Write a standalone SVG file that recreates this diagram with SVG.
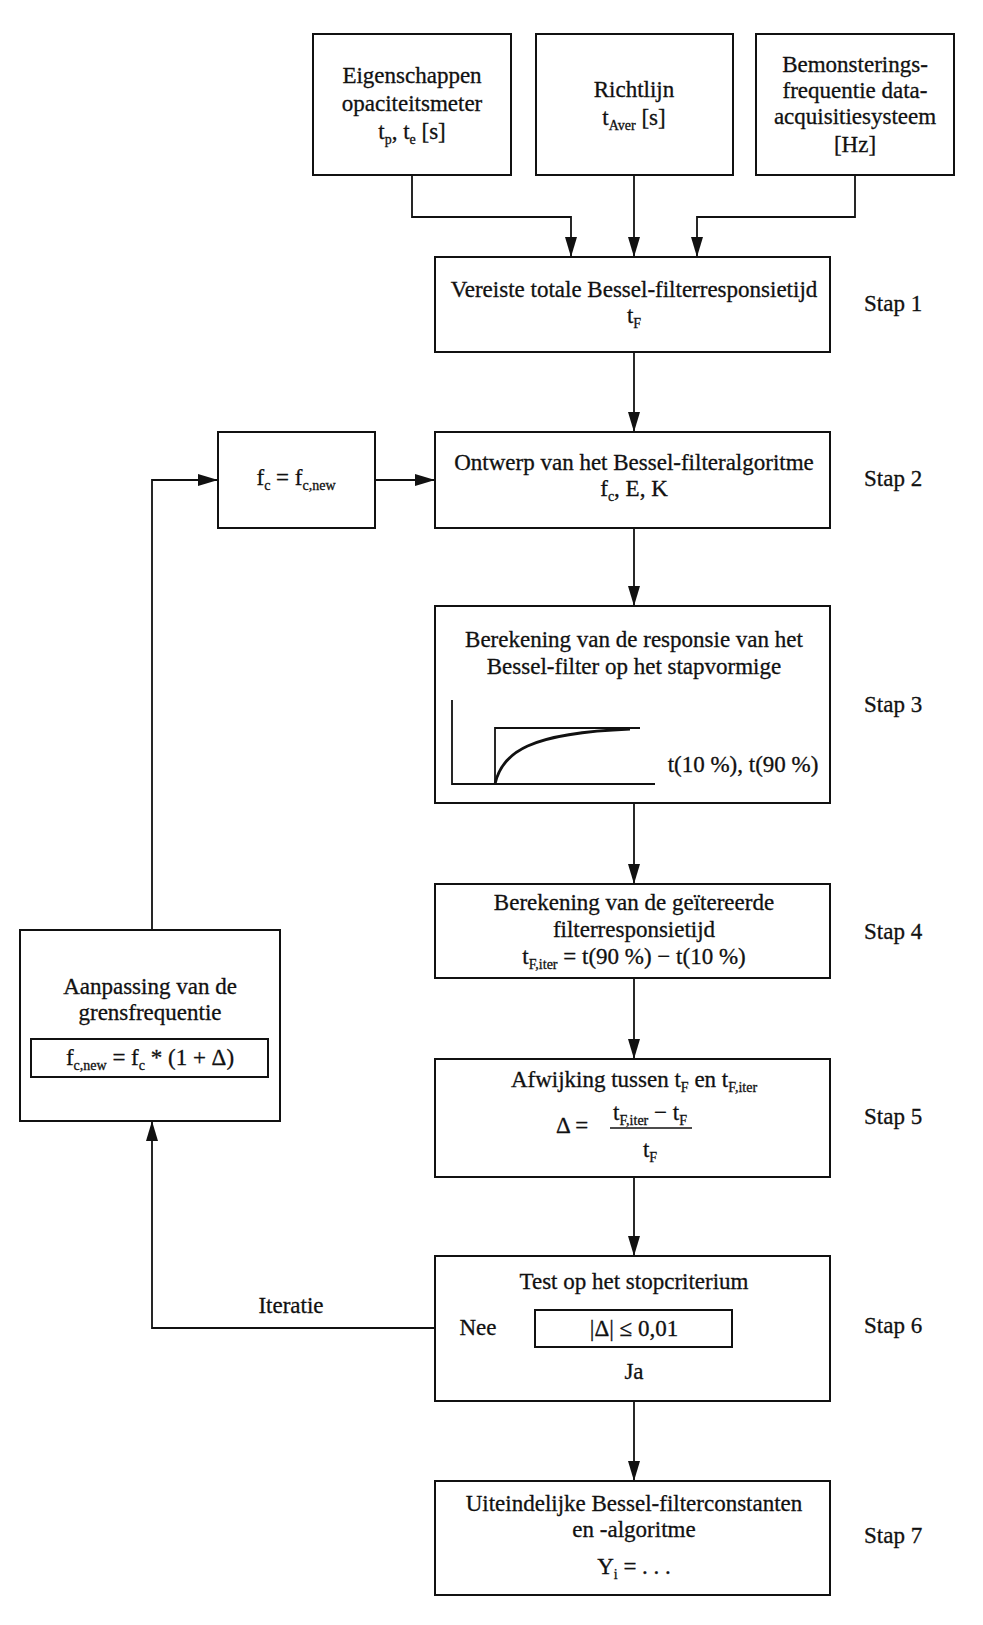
<svg xmlns="http://www.w3.org/2000/svg" width="983" height="1625" viewBox="0 0 983 1625">
<style>
.box{fill:#fff;stroke:#111;stroke-width:2}
.t{font-family:"Liberation Serif",serif;font-size:23px;fill:#111;stroke:#111;stroke-width:0.3;text-anchor:middle}
.st{font-family:"Liberation Serif",serif;font-size:23px;fill:#111;stroke:#111;stroke-width:0.3}
.s{font-size:14px}
.ln{fill:none;stroke:#111;stroke-width:1.8}
.ar{fill:none;stroke:#111;stroke-width:1.8;marker-end:url(#ah)}
</style>
<defs>
<marker id="ah" viewBox="0 0 20 12" refX="20" refY="6" markerWidth="20" markerHeight="12" markerUnits="userSpaceOnUse" orient="auto">
<path d="M0,0 L20,6 L0,12 z" fill="#111"/>
</marker>
</defs>
<rect width="983" height="1625" fill="#fff"/>

<g id="connectors">
<path class="ar" d="M412,175 V217 H571 V257"/>
<path class="ar" d="M634,175 V257"/>
<path class="ar" d="M855,175 V217 H697 V257"/>
<path class="ar" d="M634,352 V432"/>
<path class="ar" d="M375,480 H435"/>
<path class="ar" d="M152,930 V480 H218"/>
<path class="ar" d="M634,528 V606"/>
<path class="ar" d="M634,803 V884"/>
<path class="ar" d="M634,978 V1059"/>
<path class="ar" d="M634,1177 V1256"/>
<path class="ar" d="M435,1328 H152 V1121"/>
<path class="ar" d="M634,1401 V1481"/>
<text class="t" x="291" y="1313">Iteratie</text>
</g>

<g id="n-eigenschappen">
<rect class="box" x="313" y="34" width="198" height="141"/>
<text class="t" x="412" y="83">Eigenschappen</text>
<text class="t" x="412" y="111">opaciteitsmeter</text>
<text class="t" x="412" y="139">t<tspan class="s" dy="5">p</tspan><tspan dy="-5">, t</tspan><tspan class="s" dy="5">e</tspan><tspan dy="-5"> [s]</tspan></text>
</g>

<g id="n-richtlijn">
<rect class="box" x="536" y="34" width="197" height="141"/>
<text class="t" x="634" y="97">Richtlijn</text>
<text class="t" x="634" y="125">t<tspan class="s" dy="5">Aver</tspan><tspan dy="-5"> [s]</tspan></text>
</g>

<g id="n-bemonstering">
<rect class="box" x="756" y="34" width="198" height="141"/>
<text class="t" x="855" y="72">Bemonsterings-</text>
<text class="t" x="855" y="98">frequentie data-</text>
<text class="t" x="855" y="124">acquisitiesysteem</text>
<text class="t" x="855" y="152">[Hz]</text>
</g>

<g id="n-stap1">
<rect class="box" x="435" y="257" width="395" height="95"/>
<text class="t" x="634" y="297">Vereiste totale Bessel-filterresponsietijd</text>
<text class="t" x="634" y="323">t<tspan class="s" dy="5">F</tspan></text>
<text class="st" x="864" y="311">Stap 1</text>
</g>

<g id="n-fc">
<rect class="box" x="218" y="432" width="157" height="96"/>
<text class="t" x="296" y="485">f<tspan class="s" dy="5">c</tspan><tspan dy="-5"> = f</tspan><tspan class="s" dy="5">c,new</tspan></text>
</g>

<g id="n-stap2">
<rect class="box" x="435" y="432" width="395" height="96"/>
<text class="t" x="634" y="470">Ontwerp van het Bessel-filteralgoritme</text>
<text class="t" x="634" y="496">f<tspan class="s" dy="5">c</tspan><tspan dy="-5">, E, K</tspan></text>
<text class="st" x="864" y="486">Stap 2</text>
</g>

<g id="n-stap3">
<rect class="box" x="435" y="606" width="395" height="197"/>
<text class="t" x="634" y="647">Berekening van de responsie van het</text>
<text class="t" x="634" y="674">Bessel-filter op het stapvormige</text>
<path class="ln" d="M452,700 V784 H655"/>
<path class="ln" d="M495,784 V728 H640"/>
<path fill="none" stroke="#111" stroke-width="2.8" d="M495,784 C502,752 530,733 630,729"/>
<text class="t" x="743" y="772">t(10 %), t(90 %)</text>
<text class="st" x="864" y="712">Stap 3</text>
</g>

<g id="n-aanpassing">
<rect class="box" x="20" y="930" width="260" height="191"/>
<text class="t" x="150" y="994">Aanpassing van de</text>
<text class="t" x="150" y="1020">grensfrequentie</text>
<rect class="box" x="31" y="1039" width="237" height="38"/>
<text class="t" x="150" y="1065">f<tspan class="s" dy="5">c,new</tspan><tspan dy="-5"> = f</tspan><tspan class="s" dy="5">c</tspan><tspan dy="-5"> * (1 + Δ)</tspan></text>
</g>

<g id="n-stap4">
<rect class="box" x="435" y="884" width="395" height="94"/>
<text class="t" x="634" y="910">Berekening van de geïtereerde</text>
<text class="t" x="634" y="937">filterresponsietijd</text>
<text class="t" x="634" y="964">t<tspan class="s" dy="5">F,iter</tspan><tspan dy="-5"> = t(90 %) − t(10 %)</tspan></text>
<text class="st" x="864" y="939">Stap 4</text>
</g>

<g id="n-stap5">
<rect class="box" x="435" y="1059" width="395" height="118"/>
<text class="t" x="634" y="1087">Afwijking tussen t<tspan class="s" dy="5">F</tspan><tspan dy="-5"> en t</tspan><tspan class="s" dy="5">F,iter</tspan></text>
<text class="t" x="572" y="1133">Δ =</text>
<text class="t" x="650" y="1120">t<tspan class="s" dy="5">F,iter</tspan><tspan dy="-5"> − t</tspan><tspan class="s" dy="5">F</tspan></text>
<line x1="610" y1="1128" x2="692" y2="1128" stroke="#111" stroke-width="1.5"/>
<text class="t" x="650" y="1157">t<tspan class="s" dy="5">F</tspan></text>
<text class="st" x="864" y="1124">Stap 5</text>
</g>

<g id="n-stap6">
<rect class="box" x="435" y="1256" width="395" height="145"/>
<text class="t" x="634" y="1289">Test op het stopcriterium</text>
<text class="t" x="478" y="1335">Nee</text>
<rect class="box" x="535" y="1310" width="197" height="37"/>
<text class="t" x="634" y="1336">|Δ| ≤ 0,01</text>
<text class="t" x="634" y="1379">Ja</text>
<text class="st" x="864" y="1333">Stap 6</text>
</g>

<g id="n-stap7">
<rect class="box" x="435" y="1481" width="395" height="114"/>
<text class="t" x="634" y="1511">Uiteindelijke Bessel-filterconstanten</text>
<text class="t" x="634" y="1537">en -algoritme</text>
<text class="t" x="634" y="1574">Y<tspan class="s" dy="5">i</tspan><tspan dy="-5"> = . . .</tspan></text>
<text class="st" x="864" y="1543">Stap 7</text>
</g>
</svg>
